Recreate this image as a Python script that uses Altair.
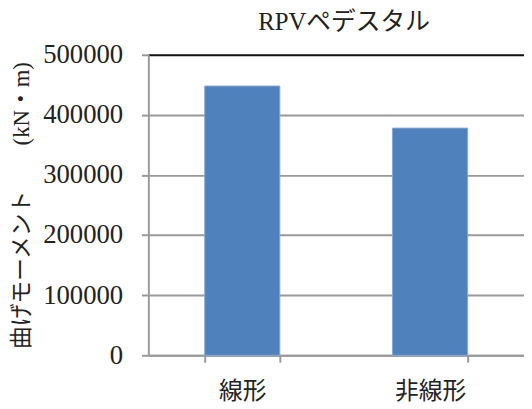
import altair as alt
import pandas as pd

categories = ["線形", "非線形"]
values = [448000, 378000]
y_ticks = [0, 100000, 200000, 300000, 400000, 500000]

df = pd.DataFrame({"category": categories, "value": values})

FONT = "'Liberation Serif', 'Noto Sans CJK JP', serif"
NUMFONT = "Liberation Serif"
GRID = "#9a9a9a"

chart = alt.Chart(df).mark_bar(color="#4F81BD", stroke="#86A9D8", strokeWidth=1).encode(
    x=alt.X(
        "category:N", sort=categories, title=None,
        scale=alt.Scale(paddingInner=0.6, paddingOuter=0.3),
        axis=alt.Axis(
            labelAngle=0, labelFontSize=24, labelPadding=18, tickBand="extent",
            grid=False,
        ),
    ),
    y=alt.Y(
        "value:Q", title="曲げモーメント　　(kN・m)",
        scale=alt.Scale(domain=[0, 500000], nice=False),
        axis=alt.Axis(
            values=y_ticks, format="d", labelFont=NUMFONT, labelFontSize=27, labelPadding=19,
            gridColor=alt.condition("datum.value == 500000", alt.value("#111111"), alt.value(GRID)),
            gridWidth=2,
            titleFontSize=23, titlePadding=9,
        ),
    ),
).properties(
    width=380,
    height=304,
    title=alt.Title("RPVペデスタル", fontSize=25, fontWeight="normal",
                    color="#222222", offset=6, dx=8),
    autosize="none",
    padding={"left": 142, "top": 45, "right": 0, "bottom": 52},
).configure(
    font=FONT
).configure_axis(
    labelFont=FONT, titleFont=FONT, labelColor="#222222", titleColor="#222222",
    titleFontWeight="normal", tickSize=7, tickColor=GRID, tickWidth=2,
    domainColor=GRID, domainWidth=2,
).configure_view(stroke=None)

chart.save("out.html", embed_options={"renderer": "svg", "actions": False})
